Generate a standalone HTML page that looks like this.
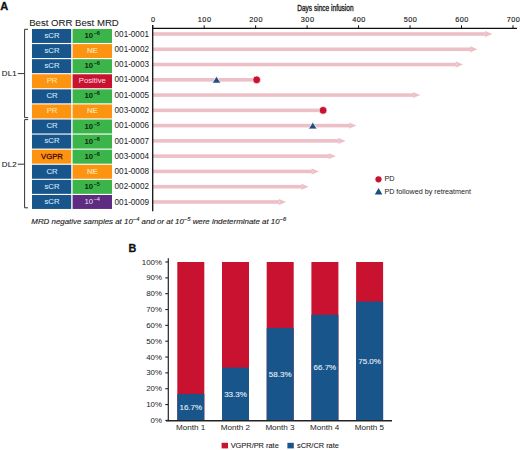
<!DOCTYPE html>
<html><head><meta charset="utf-8"><style>
html,body{margin:0;padding:0;background:#fff;width:520px;height:450px;overflow:hidden}
svg{display:block;font-family:"Liberation Sans", sans-serif}
</style></head><body>
<svg width="520" height="450" viewBox="0 0 520 450">
<text x="0.2" y="10.0" font-size="11" font-weight="bold" fill="#111" stroke="#111" stroke-width="0.3">A</text>
<text x="29.2" y="26.0" font-size="9.6" fill="#222" stroke="#222" stroke-width="0.08">Best ORR Best MRD</text>
<rect x="32" y="29.00" width="39.2" height="13.95" fill="#17558a"/>
<rect x="72.6" y="29.00" width="39.4" height="13.95" fill="#3bb449"/>
<text x="52.0" y="37.80" font-size="7.7" fill="#d2e6f8" stroke="#d2e6f8" stroke-width="0.12" text-anchor="middle">sCR</text>
<text x="84.6" y="38.10" font-size="7.7" fill="#0d2a10" font-weight="bold">10<tspan font-size="5.6" dx="0.5" dy="-3.1">–6</tspan></text>
<rect x="32" y="44.09" width="39.2" height="13.95" fill="#17558a"/>
<rect x="72.6" y="44.09" width="39.4" height="13.95" fill="#fc9412"/>
<text x="52.0" y="52.89" font-size="7.7" fill="#d2e6f8" stroke="#d2e6f8" stroke-width="0.12" text-anchor="middle">sCR</text>
<text x="92.3" y="53.09" font-size="7.7" fill="#fde3b0" stroke="#fde3b0" stroke-width="0.2" text-anchor="middle">NE</text>
<rect x="32" y="59.18" width="39.2" height="13.95" fill="#17558a"/>
<rect x="72.6" y="59.18" width="39.4" height="13.95" fill="#3bb449"/>
<text x="52.0" y="67.98" font-size="7.7" fill="#d2e6f8" stroke="#d2e6f8" stroke-width="0.12" text-anchor="middle">sCR</text>
<text x="84.6" y="68.28" font-size="7.7" fill="#0d2a10" font-weight="bold">10<tspan font-size="5.6" dx="0.5" dy="-3.1">–6</tspan></text>
<rect x="32" y="74.27" width="39.2" height="13.95" fill="#fc9412"/>
<rect x="72.6" y="74.27" width="39.4" height="13.95" fill="#c8122f"/>
<text x="52.0" y="83.07" font-size="7.7" fill="#fde3b0" stroke="#fde3b0" stroke-width="0.12" text-anchor="middle">PR</text>
<text x="92.3" y="83.27" font-size="7.7" fill="#fbdde2" stroke="#fbdde2" stroke-width="0.05" text-anchor="middle">Positive</text>
<rect x="32" y="89.36" width="39.2" height="13.95" fill="#17558a"/>
<rect x="72.6" y="89.36" width="39.4" height="13.95" fill="#3bb449"/>
<text x="52.0" y="98.16" font-size="7.7" fill="#d2e6f8" stroke="#d2e6f8" stroke-width="0.12" text-anchor="middle">CR</text>
<text x="84.6" y="98.46" font-size="7.7" fill="#0d2a10" font-weight="bold">10<tspan font-size="5.6" dx="0.5" dy="-3.1">–6</tspan></text>
<rect x="32" y="104.45" width="39.2" height="13.95" fill="#fc9412"/>
<rect x="72.6" y="104.45" width="39.4" height="13.95" fill="#fc9412"/>
<text x="52.0" y="113.25" font-size="7.7" fill="#fde3b0" stroke="#fde3b0" stroke-width="0.12" text-anchor="middle">PR</text>
<text x="92.3" y="113.45" font-size="7.7" fill="#fde3b0" stroke="#fde3b0" stroke-width="0.2" text-anchor="middle">NE</text>
<rect x="32" y="119.54" width="39.2" height="13.95" fill="#17558a"/>
<rect x="72.6" y="119.54" width="39.4" height="13.95" fill="#3bb449"/>
<text x="52.0" y="128.34" font-size="7.7" fill="#d2e6f8" stroke="#d2e6f8" stroke-width="0.12" text-anchor="middle">CR</text>
<text x="84.6" y="128.64" font-size="7.7" fill="#0d2a10" font-weight="bold">10<tspan font-size="5.6" dx="0.5" dy="-3.1">–5</tspan></text>
<rect x="32" y="134.63" width="39.2" height="13.95" fill="#17558a"/>
<rect x="72.6" y="134.63" width="39.4" height="13.95" fill="#3bb449"/>
<text x="52.0" y="143.43" font-size="7.7" fill="#d2e6f8" stroke="#d2e6f8" stroke-width="0.12" text-anchor="middle">sCR</text>
<text x="84.6" y="143.73" font-size="7.7" fill="#0d2a10" font-weight="bold">10<tspan font-size="5.6" dx="0.5" dy="-3.1">–6</tspan></text>
<rect x="32" y="149.72" width="39.2" height="13.95" fill="#fc9412"/>
<rect x="72.6" y="149.72" width="39.4" height="13.95" fill="#3bb449"/>
<text x="52.0" y="158.52" font-size="7.7" fill="#4a0e02" stroke="#4a0e02" stroke-width="0.3" text-anchor="middle">VGPR</text>
<text x="84.6" y="158.82" font-size="7.7" fill="#0d2a10" font-weight="bold">10<tspan font-size="5.6" dx="0.5" dy="-3.1">–6</tspan></text>
<rect x="32" y="164.81" width="39.2" height="13.95" fill="#17558a"/>
<rect x="72.6" y="164.81" width="39.4" height="13.95" fill="#fc9412"/>
<text x="52.0" y="173.61" font-size="7.7" fill="#d2e6f8" stroke="#d2e6f8" stroke-width="0.12" text-anchor="middle">CR</text>
<text x="92.3" y="173.81" font-size="7.7" fill="#fde3b0" stroke="#fde3b0" stroke-width="0.2" text-anchor="middle">NE</text>
<rect x="32" y="179.90" width="39.2" height="13.95" fill="#17558a"/>
<rect x="72.6" y="179.90" width="39.4" height="13.95" fill="#3bb449"/>
<text x="52.0" y="188.70" font-size="7.7" fill="#d2e6f8" stroke="#d2e6f8" stroke-width="0.12" text-anchor="middle">sCR</text>
<text x="84.6" y="189.00" font-size="7.7" fill="#0d2a10" font-weight="bold">10<tspan font-size="5.6" dx="0.5" dy="-3.1">–5</tspan></text>
<rect x="32" y="194.99" width="39.2" height="13.95" fill="#17558a"/>
<rect x="72.6" y="194.99" width="39.4" height="13.95" fill="#5d2b80"/>
<text x="52.0" y="203.79" font-size="7.7" fill="#d2e6f8" stroke="#d2e6f8" stroke-width="0.12" text-anchor="middle">sCR</text>
<text x="84.6" y="204.09" font-size="7.7" fill="#f0e0f5">10<tspan font-size="5.6" dx="0.5" dy="-3.1">–4</tspan></text>
<text x="114.6" y="36.60" font-size="8.15" fill="#222">001-0001</text>
<text x="114.6" y="51.88" font-size="8.15" fill="#222">001-0002</text>
<text x="114.6" y="67.16" font-size="8.15" fill="#222">001-0003</text>
<text x="114.6" y="82.44" font-size="8.15" fill="#222">001-0004</text>
<text x="114.6" y="97.72" font-size="8.15" fill="#222">001-0005</text>
<text x="114.6" y="113.00" font-size="8.15" fill="#222">003-0002</text>
<text x="114.6" y="128.28" font-size="8.15" fill="#222">001-0006</text>
<text x="114.6" y="143.56" font-size="8.15" fill="#222">001-0007</text>
<text x="114.6" y="158.84" font-size="8.15" fill="#222">003-0004</text>
<text x="114.6" y="174.12" font-size="8.15" fill="#222">001-0008</text>
<text x="114.6" y="189.40" font-size="8.15" fill="#222">002-0002</text>
<text x="114.6" y="204.68" font-size="8.15" fill="#222">001-0009</text>
<path d="M28 29.3 H24.6 V117.6 H28.2" fill="none" stroke="#333" stroke-width="1"/>
<path d="M28.2 119.6 H24.6 V207.8 H28" fill="none" stroke="#333" stroke-width="1"/>
<line x1="17.8" y1="73.6" x2="24.6" y2="73.6" stroke="#333" stroke-width="1"/>
<line x1="17.8" y1="164.2" x2="24.6" y2="164.2" stroke="#333" stroke-width="1"/>
<text x="1.8" y="75.9" font-size="7.9" letter-spacing="0.15" fill="#222" stroke="#222" stroke-width="0.1">DL1</text>
<text x="1.8" y="166.6" font-size="7.9" letter-spacing="0.15" fill="#222" stroke="#222" stroke-width="0.1">DL2</text>
<rect x="153" y="32.20" width="332.90" height="3.6" fill="#edc0c8"/>
<path d="M484.80 30.80 L492.40 34.00 L484.80 37.20 L486.20 34.00 Z" fill="#edc0c8"/>
<rect x="153" y="47.47" width="317.98" height="3.6" fill="#edc0c8"/>
<path d="M469.88 46.07 L477.48 49.27 L469.88 52.47 L471.28 49.27 Z" fill="#edc0c8"/>
<rect x="153" y="62.74" width="303.56" height="3.6" fill="#edc0c8"/>
<path d="M455.46 61.34 L463.06 64.54 L455.46 67.74 L456.86 64.54 Z" fill="#edc0c8"/>
<rect x="153" y="93.28" width="260.84" height="3.6" fill="#edc0c8"/>
<path d="M412.74 91.88 L420.34 95.08 L412.74 98.28 L414.14 95.08 Z" fill="#edc0c8"/>
<rect x="153" y="123.82" width="197.02" height="3.6" fill="#edc0c8"/>
<path d="M348.92 122.42 L356.52 125.62 L348.92 128.82 L350.32 125.62 Z" fill="#edc0c8"/>
<rect x="153" y="139.09" width="186.21" height="3.6" fill="#edc0c8"/>
<path d="M338.11 137.69 L345.71 140.89 L338.11 144.09 L339.51 140.89 Z" fill="#edc0c8"/>
<rect x="153" y="154.36" width="176.43" height="3.6" fill="#edc0c8"/>
<path d="M328.33 152.96 L335.93 156.16 L328.33 159.36 L329.73 156.16 Z" fill="#edc0c8"/>
<rect x="153" y="169.63" width="159.45" height="3.6" fill="#edc0c8"/>
<path d="M311.35 168.23 L318.95 171.43 L311.35 174.63 L312.75 171.43 Z" fill="#edc0c8"/>
<rect x="153" y="184.90" width="149.15" height="3.6" fill="#edc0c8"/>
<path d="M301.05 183.50 L308.65 186.70 L301.05 189.90 L302.45 186.70 Z" fill="#edc0c8"/>
<rect x="153" y="200.17" width="126.51" height="3.6" fill="#edc0c8"/>
<path d="M278.41 198.77 L286.01 201.97 L278.41 205.17 L279.81 201.97 Z" fill="#edc0c8"/>
<rect x="153" y="78.01" width="103.67" height="3.6" fill="#edc0c8"/>
<circle cx="256.67" cy="79.81" r="3.9" fill="#c8122f" stroke="#fff" stroke-width="0.7"/>
<rect x="153" y="108.55" width="170.07" height="3.6" fill="#edc0c8"/>
<circle cx="323.07" cy="110.35" r="3.9" fill="#c8122f" stroke="#fff" stroke-width="0.7"/>
<path d="M212.22 83.11 L216.52 76.31 L220.82 83.11 Z" fill="#1d4e7e" stroke="#fff" stroke-width="0.7"/>
<path d="M308.47 128.92 L312.77 122.12 L317.07 128.92 Z" fill="#1d4e7e" stroke="#fff" stroke-width="0.7"/>
<line x1="152.2" y1="28.4" x2="517" y2="28.4" stroke="#111" stroke-width="1.15"/>
<line x1="152.7" y1="25" x2="152.7" y2="211.3" stroke="#111" stroke-width="1.3"/>
<line x1="152.70" y1="25.3" x2="152.70" y2="28.5" stroke="#111" stroke-width="1"/>
<text x="153.20" y="22" font-size="7.3" letter-spacing="0.5" fill="#222" stroke="#222" stroke-width="0.15" text-anchor="middle">0</text>
<line x1="204.17" y1="25.3" x2="204.17" y2="28.5" stroke="#111" stroke-width="1"/>
<text x="204.67" y="22" font-size="7.3" letter-spacing="0.5" fill="#222" stroke="#222" stroke-width="0.15" text-anchor="middle">100</text>
<line x1="255.64" y1="25.3" x2="255.64" y2="28.5" stroke="#111" stroke-width="1"/>
<text x="256.14" y="22" font-size="7.3" letter-spacing="0.5" fill="#222" stroke="#222" stroke-width="0.15" text-anchor="middle">200</text>
<line x1="307.11" y1="25.3" x2="307.11" y2="28.5" stroke="#111" stroke-width="1"/>
<text x="307.61" y="22" font-size="7.3" letter-spacing="0.5" fill="#222" stroke="#222" stroke-width="0.15" text-anchor="middle">300</text>
<line x1="358.58" y1="25.3" x2="358.58" y2="28.5" stroke="#111" stroke-width="1"/>
<text x="359.08" y="22" font-size="7.3" letter-spacing="0.5" fill="#222" stroke="#222" stroke-width="0.15" text-anchor="middle">400</text>
<line x1="410.05" y1="25.3" x2="410.05" y2="28.5" stroke="#111" stroke-width="1"/>
<text x="410.55" y="22" font-size="7.3" letter-spacing="0.5" fill="#222" stroke="#222" stroke-width="0.15" text-anchor="middle">500</text>
<line x1="461.52" y1="25.3" x2="461.52" y2="28.5" stroke="#111" stroke-width="1"/>
<text x="462.02" y="22" font-size="7.3" letter-spacing="0.5" fill="#222" stroke="#222" stroke-width="0.15" text-anchor="middle">600</text>
<line x1="512.99" y1="25.3" x2="512.99" y2="28.5" stroke="#111" stroke-width="1"/>
<text x="513.49" y="22" font-size="7.3" letter-spacing="0.5" fill="#222" stroke="#222" stroke-width="0.15" text-anchor="middle">700</text>
<text x="0" y="0" font-size="8.8" fill="#222" stroke="#222" stroke-width="0.35" transform="translate(297.2,10.6) scale(0.745,1)">Days since infusion</text>
<circle cx="378.5" cy="179.3" r="3.1" fill="#c8122f"/>
<text x="384.4" y="181.4" font-size="7.3" fill="#222">PD</text>
<path d="M374.8 194.4 L378.6 188.1 L382.4 194.4 Z" fill="#1d4e7e"/>
<text x="384.4" y="193.6" font-size="7.2" fill="#222">PD followed by retreatment</text>
<text x="31.3" y="224.2" font-size="7.92" font-style="italic" fill="#222" stroke="#222" stroke-width="0.12">MRD negative samples at 10<tspan font-size="5.8" dy="-3.2">−4</tspan><tspan dy="3.2"> and or at 10</tspan><tspan font-size="5.8" dy="-3.2">−5</tspan><tspan dy="3.2"> were indeterminate at 10</tspan><tspan font-size="5.8" dy="-3.2">−6</tspan></text>
<text x="128.6" y="251.6" font-size="10.8" font-weight="bold" fill="#111" stroke="#111" stroke-width="0.3">B</text>
<line x1="165.3" y1="420.40" x2="168.3" y2="420.40" stroke="#222" stroke-width="1.1"/>
<text x="162" y="423.00" font-size="7.9" fill="#222" text-anchor="end">0%</text>
<line x1="165.3" y1="404.56" x2="168.3" y2="404.56" stroke="#222" stroke-width="1.1"/>
<text x="162" y="407.16" font-size="7.9" fill="#222" text-anchor="end">10%</text>
<line x1="165.3" y1="388.72" x2="168.3" y2="388.72" stroke="#222" stroke-width="1.1"/>
<text x="162" y="391.32" font-size="7.9" fill="#222" text-anchor="end">20%</text>
<line x1="165.3" y1="372.88" x2="168.3" y2="372.88" stroke="#222" stroke-width="1.1"/>
<text x="162" y="375.48" font-size="7.9" fill="#222" text-anchor="end">30%</text>
<line x1="165.3" y1="357.04" x2="168.3" y2="357.04" stroke="#222" stroke-width="1.1"/>
<text x="162" y="359.64" font-size="7.9" fill="#222" text-anchor="end">40%</text>
<line x1="165.3" y1="341.20" x2="168.3" y2="341.20" stroke="#222" stroke-width="1.1"/>
<text x="162" y="343.80" font-size="7.9" fill="#222" text-anchor="end">50%</text>
<line x1="165.3" y1="325.36" x2="168.3" y2="325.36" stroke="#222" stroke-width="1.1"/>
<text x="162" y="327.96" font-size="7.9" fill="#222" text-anchor="end">60%</text>
<line x1="165.3" y1="309.52" x2="168.3" y2="309.52" stroke="#222" stroke-width="1.1"/>
<text x="162" y="312.12" font-size="7.9" fill="#222" text-anchor="end">70%</text>
<line x1="165.3" y1="293.68" x2="168.3" y2="293.68" stroke="#222" stroke-width="1.1"/>
<text x="162" y="296.28" font-size="7.9" fill="#222" text-anchor="end">80%</text>
<line x1="165.3" y1="277.84" x2="168.3" y2="277.84" stroke="#222" stroke-width="1.1"/>
<text x="162" y="280.44" font-size="7.9" fill="#222" text-anchor="end">90%</text>
<line x1="165.3" y1="262.00" x2="168.3" y2="262.00" stroke="#222" stroke-width="1.1"/>
<text x="162" y="264.60" font-size="7.9" fill="#222" text-anchor="end">100%</text>
<line x1="168.3" y1="258.3" x2="168.3" y2="421.2" stroke="#222" stroke-width="1.2"/>
<rect x="177.30" y="262.00" width="27" height="158.40" fill="#c8122f"/>
<rect x="177.30" y="393.95" width="27" height="26.45" fill="#17558a"/>
<text x="190.80" y="410.02" font-size="8.0" fill="#e8f0f8" stroke="#e8f0f8" stroke-width="0.1" text-anchor="middle">16.7%</text>
<text x="190.60" y="430.0" font-size="8.1" fill="#222" text-anchor="middle">Month 1</text>
<rect x="222.00" y="262.00" width="27" height="158.40" fill="#c8122f"/>
<rect x="222.00" y="367.65" width="27" height="52.75" fill="#17558a"/>
<text x="235.50" y="396.88" font-size="8.0" fill="#e8f0f8" stroke="#e8f0f8" stroke-width="0.1" text-anchor="middle">33.3%</text>
<text x="235.30" y="430.0" font-size="8.1" fill="#222" text-anchor="middle">Month 2</text>
<rect x="266.70" y="262.00" width="27" height="158.40" fill="#c8122f"/>
<rect x="266.70" y="328.05" width="27" height="92.35" fill="#17558a"/>
<text x="280.20" y="377.08" font-size="8.0" fill="#e8f0f8" stroke="#e8f0f8" stroke-width="0.1" text-anchor="middle">58.3%</text>
<text x="280.00" y="430.0" font-size="8.1" fill="#222" text-anchor="middle">Month 3</text>
<rect x="311.40" y="262.00" width="27" height="158.40" fill="#c8122f"/>
<rect x="311.40" y="314.75" width="27" height="105.65" fill="#17558a"/>
<text x="324.90" y="370.42" font-size="8.0" fill="#e8f0f8" stroke="#e8f0f8" stroke-width="0.1" text-anchor="middle">66.7%</text>
<text x="324.70" y="430.0" font-size="8.1" fill="#222" text-anchor="middle">Month 4</text>
<rect x="356.10" y="262.00" width="27" height="158.40" fill="#c8122f"/>
<rect x="356.10" y="301.60" width="27" height="118.80" fill="#17558a"/>
<text x="369.60" y="363.85" font-size="8.0" fill="#e8f0f8" stroke="#e8f0f8" stroke-width="0.1" text-anchor="middle">75.0%</text>
<text x="369.40" y="430.0" font-size="8.1" fill="#222" text-anchor="middle">Month 5</text>
<line x1="166" y1="420.7" x2="392" y2="420.7" stroke="#222" stroke-width="1.6"/>
<rect x="221.6" y="442.8" width="6.4" height="5.6" fill="#c8122f"/>
<text x="230.7" y="447.8" font-size="7.4" fill="#222" stroke="#222" stroke-width="0.1">VGPR/PR rate</text>
<rect x="287.4" y="442.8" width="6.4" height="5.6" fill="#17558a"/>
<text x="297" y="447.8" font-size="7.4" fill="#222" stroke="#222" stroke-width="0.1">sCR/CR rate</text>
</svg>
</body></html>
